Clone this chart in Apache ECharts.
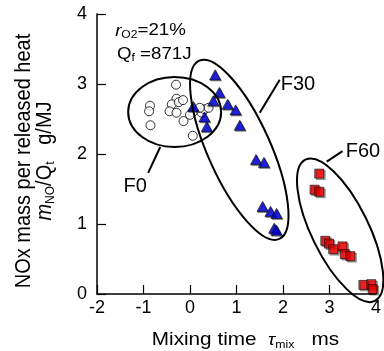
<!DOCTYPE html>
<html>
<head>
<meta charset="utf-8">
<script src="https://cdn.jsdelivr.net/npm/echarts@6/dist/echarts.min.js"></script>
<style>
  html, body { margin: 0; padding: 0; background: #fff; }
  #main { width: 384px; height: 351px; }
</style>
</head>
<body>
<div id="main"></div>
<script>
// F0 (open circles)
var f0Data = [
  [-0.30, 2.99], [-0.86, 2.69], [-0.88, 2.61], [-0.85, 2.41], [-0.29, 2.79],
  [-0.39, 2.71], [-0.44, 2.61], [-0.29, 2.59], [-0.24, 2.74], [-0.15, 2.77],
  [-0.14, 2.47], [0.06, 2.26], [0.06, 2.60], [0.00, 2.56], [0.25, 2.59],
  [0.31, 2.64], [0.40, 2.66], [0.21, 2.66]
];
// F30 (triangles)
var f30Data = [
  [0.54, 3.13], [0.63, 2.88], [0.50, 2.76], [0.81, 2.71], [0.98, 2.63],
  [1.07, 2.41], [0.07, 2.68], [0.31, 2.53], [0.36, 2.39], [1.42, 1.92],
  [1.59, 1.88], [1.56, 1.25], [1.73, 1.18], [1.86, 1.15], [1.81, 0.94],
  [1.86, 0.91]
];
// F60 (squares)
var f60Data = [
  [2.78, 1.72], [2.68, 1.49], [2.78, 1.46], [2.91, 0.76], [2.99, 0.72],
  [3.08, 0.64], [3.28, 0.68], [3.33, 0.57], [3.45, 0.54], [3.73, 0.13],
  [3.90, 0.14], [3.93, 0.07]
];

// group outlines and their labels (data coords)
var groupNames = ["F0", "F30", "F60"];
var groupCenters = [[-0.33, 2.60], [1.06, 2.06], [3.23, 0.91]];
var labelAnchors = [[-1.18, 1.53], [1.95, 3.00], [3.35, 2.03]];
var leaderFrom = [[-0.64, 2.10], [1.50, 2.59], [2.94, 1.89]];
var leaderTo = [[-0.90, 1.73], [1.93, 3.06], [3.28, 2.04]];

// condition notes
var noteTexts = ["{i|r}{s|O2}{a|=21%}", "{a|Q}{s|f}{a| =871J}"];
var noteAnchors = [[-1.61, 3.76], [-1.57, 3.43]];

var xTitle = "{a|Mixing time  }{t|τ}{s|mix}{a|   ms}";
var yTitle = ["{a|NOx mass per released heat}", "{i|m}{s|NO}{a|/Q}{s|t}{a|   g/MJ}"];

var font = '"Liberation Sans", Arial, sans-serif';

var chartDom = document.getElementById("main");
var myChart = echarts.init(chartDom);
var option;

option = {
  animation: false,
  grid: { left: 97, right: 7, top: 14, bottom: 57 },
  xAxis: {
    type: "value",
    min: -2,
    max: 4,
    interval: 1,
    axisLine: { show: true, onZero: false, lineStyle: { color: "#000", width: 1.5 } },
    axisTick: { show: true, inside: true, length: 9, lineStyle: { color: "#000", width: 1.2 } },
    axisLabel: { color: "#000", fontSize: 18, fontFamily: font, margin: 5 },
    splitLine: { show: false },
  },
  yAxis: {
    type: "value",
    min: 0,
    max: 4,
    interval: 1,
    axisLine: { show: true, onZero: false, lineStyle: { color: "#000", width: 1.5 } },
    axisTick: { show: true, inside: true, length: 9, lineStyle: { color: "#000", width: 1.2 } },
    axisLabel: { color: "#000", fontSize: 18, fontFamily: font, margin: 10 },
    splitLine: { show: false },
  },
  series: [
    {
      name: "F0",
      type: "scatter",
      symbol: "circle",
      symbolSize: 9,
      itemStyle: { color: "#fff", borderColor: "#000", borderWidth: 1 },
      data: f0Data,
      z: 2,
    },
    {
      name: "F30",
      type: "scatter",
      symbol: "triangle",
      symbolSize: [11, 10],
      itemStyle: {
        color: "#0000f0",
        borderColor: "#000",
        borderWidth: 0.8,
        shadowColor: "rgba(0,0,0,0.5)",
        shadowOffsetX: 1,
        shadowOffsetY: 1,
      },
      data: f30Data,
      z: 3,
    },
    {
      name: "F60",
      type: "scatter",
      symbol: "rect",
      symbolSize: 9,
      itemStyle: {
        color: "#ff0000",
        borderColor: "#000",
        borderWidth: 0.8,
        shadowColor: "rgba(0,0,0,0.45)",
        shadowOffsetX: 1.5,
        shadowOffsetY: 1.5,
      },
      data: f60Data,
      z: 3,
    },
  ],
};

option && myChart.setOption(option);

function toPx(p) {
  return myChart.convertToPixel({ gridIndex: 0 }, p);
}

// outline ellipses, leader lines and labels
var ellipseShape = [
  { rx: 46.5, ry: 35, angle: 0 },
  { rx: 97.7, ry: 31.3, angle: 65.8 },
  { rx: 78.7, ry: 28.5, angle: 63.8 },
];
var graphics = [];
for (var i = 0; i < groupNames.length; i++) {
  var c = toPx(groupCenters[i]);
  graphics.push({
    type: "ellipse",
    x: c[0],
    y: c[1],
    rotation: (-ellipseShape[i].angle * Math.PI) / 180,
    shape: { cx: 0, cy: 0, rx: ellipseShape[i].rx, ry: ellipseShape[i].ry },
    style: { fill: "none", stroke: "#000", lineWidth: 2 },
    z: 10,
  });
  var p1 = toPx(leaderFrom[i]);
  var p2 = toPx(leaderTo[i]);
  graphics.push({
    type: "line",
    shape: { x1: p1[0], y1: p1[1], x2: p2[0], y2: p2[1] },
    style: { stroke: "#000", lineWidth: 2 },
    z: 10,
  });
  var t = toPx(labelAnchors[i]);
  graphics.push({
    type: "text",
    x: t[0],
    y: t[1],
    style: {
      text: groupNames[i],
      font: "20px " + font,
      fill: "#000",
      align: i === 0 ? "center" : "left",
      verticalAlign: "middle",
    },
    z: 10,
  });
}

var noteRich = {
  a: { fontSize: 17, fontFamily: font, fill: "#000", lineHeight: 20 },
  i: { fontSize: 17, fontFamily: font, fontStyle: "italic", fill: "#000", lineHeight: 20 },
  s: { fontSize: 11, fontFamily: font, fill: "#000", lineHeight: 10, verticalAlign: "bottom" },
};
for (var j = 0; j < noteAnchors.length; j++) {
  var q = toPx(noteAnchors[j]);
  graphics.push({
    type: "text",
    x: q[0],
    y: q[1],
    scaleX: 1.1,
    style: { text: noteTexts[j], rich: noteRich, align: "left", verticalAlign: "middle" },
    z: 10,
  });
}

// axis titles
var gridRect = myChart.getModel().getComponent("grid", 0).coordinateSystem.getRect();
graphics.push({
  type: "text",
  x: gridRect.x + gridRect.width / 2 + 9,
  y: gridRect.y + gridRect.height + 46,
  scaleX: 1.12,
  style: {
    text: xTitle,
    align: "center",
    verticalAlign: "middle",
    rich: {
      a: { fontSize: 18.5, fontFamily: font, fill: "#000", lineHeight: 20 },
      t: { fontSize: 17, fontFamily: font, fontStyle: "italic", fill: "#000", lineHeight: 20 },
      s: { fontSize: 11, fontFamily: font, fill: "#000", lineHeight: 10, verticalAlign: "bottom" },
    },
  },
});
var yRich = {
  a: { fontSize: 20, fontFamily: font, fill: "#000", lineHeight: 22 },
  i: { fontSize: 20, fontFamily: font, fontStyle: "italic", fill: "#000", lineHeight: 22 },
  s: { fontSize: 12, fontFamily: font, fill: "#000", lineHeight: 11, verticalAlign: "bottom" },
};
var yTitleX = [24, 45];
for (var k = 0; k < yTitle.length; k++) {
  graphics.push({
    type: "text",
    x: yTitleX[k],
    y: gridRect.y + gridRect.height / 2 + 7,
    rotation: Math.PI / 2,
    scaleY: 1.1,
    style: { text: yTitle[k], rich: yRich, align: "center", verticalAlign: "middle" },
  });
}

myChart.setOption({ graphic: graphics });
</script>
</body>
</html>
